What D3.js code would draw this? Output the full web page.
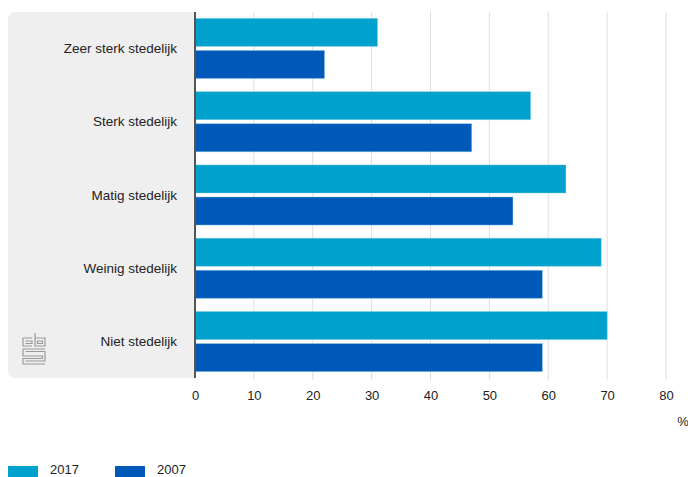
<!DOCTYPE html>
<meta charset="utf-8">
<style>
body{margin:0;background:#fff;}
text{font-family:"Liberation Sans",Arial,sans-serif;fill:#222;}
.grid line{stroke:#dedede;stroke-width:1;}
</style>
<svg width="688" height="477"></svg>
<script src="https://cdn.jsdelivr.net/npm/d3@7"></script>
<script>
var categories = ["Zeer sterk stedelijk","Sterk stedelijk","Matig stedelijk","Weinig stedelijk","Niet stedelijk"];
var series = ["2017","2007"];
var values2017 = [31,57,63,69,70];
var values2007 = [22,47,54,59,59];
var ticks = [0,10,20,30,40,50,60,70,80];
var colors = {"2017":"#00a1cd","2007":"#0058b8"};

var svg = d3.select("svg");
var plotLeft = 195, plotTop = 12, plotBottom = 378, plotRight = 666;

var x = d3.scaleLinear().domain([0,80]).range([plotLeft,plotRight]);
var y = d3.scaleBand().domain(categories).range([plotTop,plotBottom]).paddingInner(0.18).paddingOuter(0.087);
var ySub = d3.scaleBand().domain(series).range([0,y.bandwidth()]).paddingInner(0.125);

// grey label panel
svg.append("path")
  .attr("d","M"+plotLeft+","+plotTop+" H16 Q8,"+plotTop+" 8,"+(plotTop+8)+" V"+(plotBottom-8)+" Q8,"+plotBottom+" 16,"+plotBottom+" H"+plotLeft+" Z")
  .attr("fill","#efefef");

// gridlines
svg.append("g").attr("class","grid")
  .selectAll("line").data(ticks.slice(1)).enter().append("line")
  .attr("x1",d=>x(d)).attr("x2",d=>x(d)).attr("y1",plotTop).attr("y2",plotBottom+2);

var data = categories.map(function(c,i){return {cat:c,"2017":values2017[i],"2007":values2007[i]};});

var groups = svg.append("g").selectAll("g").data(data).enter().append("g")
  .attr("transform",d=>"translate(0,"+y(d.cat)+")");

groups.selectAll("rect").data(d=>series.map(s=>({s:s,v:d[s]}))).enter().append("rect")
  .attr("x",x(0)).attr("y",d=>ySub(d.s))
  .attr("width",d=>x(d.v)-x(0)).attr("height",ySub.bandwidth())
  .attr("fill",d=>colors[d.s])
  .attr("stroke","#7fd0e6").attr("stroke-opacity",0.5).attr("stroke-width",0.8);

// category labels
svg.append("g").selectAll("text").data(categories).enter().append("text")
  .attr("x",177).attr("y",d=>y(d)+y.bandwidth()/2+4.5)
  .attr("text-anchor","end").attr("font-size","13.5px").text(d=>d);

// axis line
svg.append("line").attr("x1",plotLeft).attr("x2",plotLeft).attr("y1",plotTop).attr("y2",plotBottom)
  .attr("stroke","#555").attr("stroke-width",2);

// x axis
var xAxis = d3.axisBottom(x).tickValues(ticks).tickSize(0).tickPadding(0);
var ax = svg.append("g").attr("transform","translate(0,"+(plotBottom+13)+")").call(xAxis);
ax.select(".domain").remove();
ax.selectAll("text").attr("font-size","13px").attr("fill","#222").attr("font-family","Liberation Sans, Arial, sans-serif");

svg.append("text").attr("x",683).attr("y",426).attr("text-anchor","middle").attr("font-size","13px").text("%");

// cbs logo
var logo = svg.append("g").attr("transform","translate(23,333)").attr("fill","none").attr("stroke","#999").attr("stroke-width",1.2);
logo.append("path").attr("d","M0,5 H9 M0,5 V13 H9 M2.5,8 H9 V10.5 H2.5");
logo.append("path").attr("d","M12,0 V13 H22 V5 H12 M14.5,8 H19.5 V10.5 H14.5 Z");
logo.append("path").attr("d","M0,16 H22 M0,16 V23 H19.5 V25.5 H0 V31 H22 M2.5,18.5 H22 V28 H2.5");

// legend
var leg = svg.append("g").attr("transform","translate(8,466)");
series.forEach(function(s,i){
  var g = leg.append("g").attr("transform","translate("+(i*107)+",0)");
  g.append("rect").attr("width",30).attr("height",14).attr("fill",colors[s]);
  g.append("text").attr("x",42).attr("y",7.5).attr("font-size","13px").text(s);
});
</script>
